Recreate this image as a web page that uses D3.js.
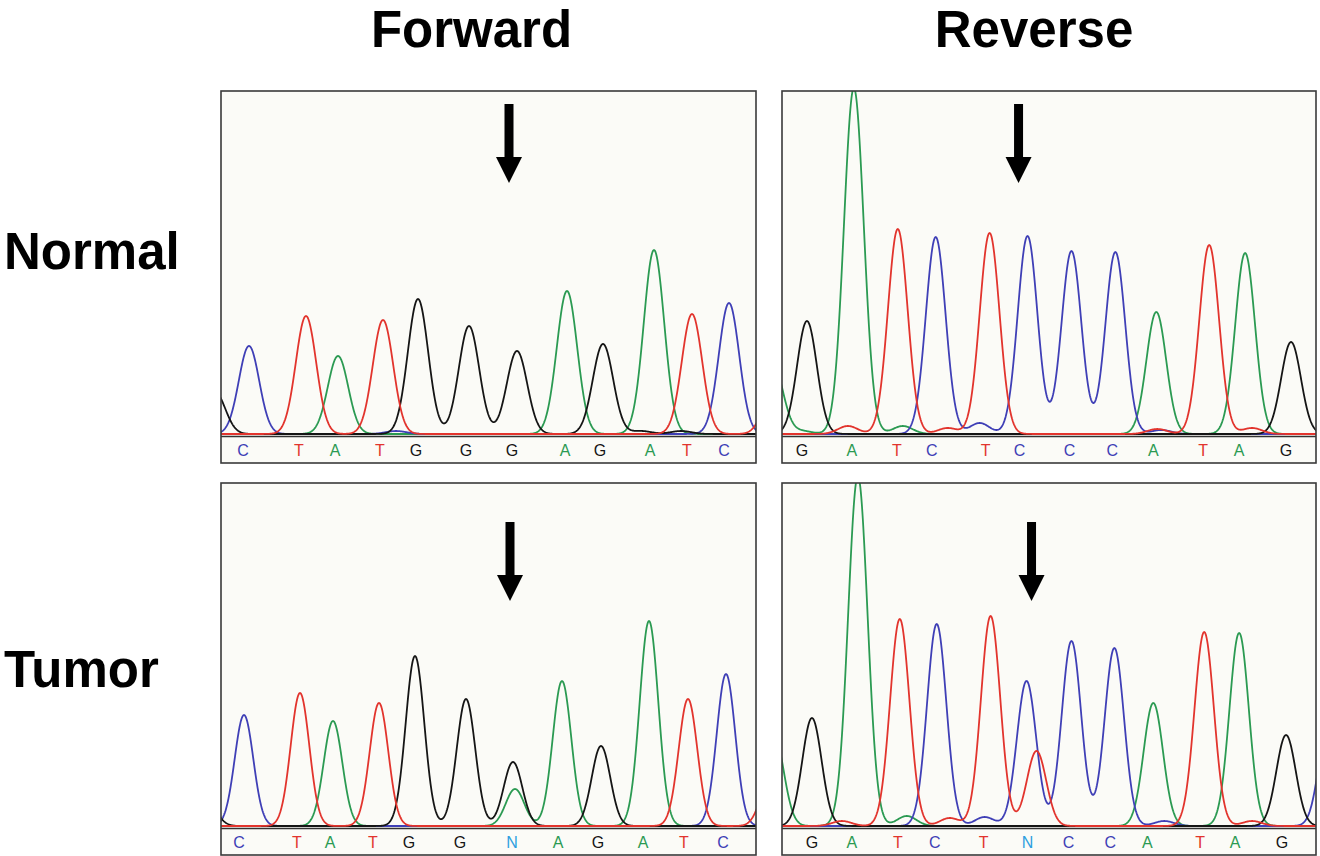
<!DOCTYPE html>
<html>
<head>
<meta charset="utf-8">
<script src="https://cdn.jsdelivr.net/npm/d3@7"></script>
<style>
  body { margin: 0; background: #fff; }
  svg { display: block; }
</style>
</head>
<body>
<div id="chart"></div>
<script>
// column / row headers
const colLabels = ['Forward', 'Reverse'];
const rowLabels = ['Normal', 'Tumor'];

// dye colour for each base channel
const baseColors = { A: '#2b9a52', C: '#3f3fb6', G: '#151515', T: '#e2342d', N: '#2e9fe0' };

// peaks: [channel, scan position, peak height]
const normalForwardPeaks = [
  ['G', -6, 42], ['C', 28, 88], ['T', 85, 118], ['A', 117, 78], ['T', 162, 114],
  ['G', 197, 135], ['G', 248, 108], ['G', 296, 83], ['A', 346, 143], ['G', 382, 90],
  ['A', 433, 184], ['T', 471, 120], ['C', 508, 131], ['T', 552, 40],
  ['C', 175, 3], ['G', 420, 3], ['G', 460, 3]
];
const normalReversePeaks = [
  ['A', -9, 70], ['G', 25, 113], ['A', 72, 346], ['T', 116, 205], ['C', 154, 197],
  ['T', 208, 201], ['C', 246, 198], ['C', 290, 183], ['C', 334, 182], ['A', 375, 122],
  ['T', 428, 189], ['A', 464, 181], ['G', 510, 92],
  ['T', 66, 8], ['A', 121, 8], ['T', 166, 6], ['C', 198, 11], ['T', 376, 5],
  ['C', 380, 4], ['T', 471, 6], ['A', 20, 3]
];
const tumorForwardPeaks = [
  ['G', -14, 25], ['C', 23, 111], ['T', 79, 133], ['A', 112, 105], ['T', 158, 123],
  ['G', 194, 170], ['G', 245, 127], ['G', 292, 64], ['A', 294, 37], ['A', 341, 145],
  ['G', 380, 80], ['A', 428, 205], ['T', 467, 127], ['C', 505, 152], ['T', 548, 41]
];
const tumorReversePeaks = [
  ['A', -8, 91], ['G', 30, 108], ['A', 76, 350], ['T', 118, 207], ['C', 155, 202],
  ['T', 209, 210], ['C', 245, 145], ['T', 255, 75], ['C', 290, 185], ['C', 333, 178],
  ['A', 372, 123], ['T', 423, 194], ['A', 458, 193], ['G', 505, 91], ['C', 548, 106],
  ['T', 60, 5], ['A', 125, 10], ['T', 168, 8], ['C', 203, 9], ['C', 383, 5], ['T', 471, 5]
];

// peak width (sigma, in scans) per panel
const peakWidths = [10.2, 9.9, 9.3, 9.7];

// base calls and their scan positions
const normalForwardCalls = 'CTATGGGAGATC';
const normalForwardCallPos = [22, 78, 114, 159, 195, 245, 291, 344, 379, 429, 466, 503];
const normalReverseCalls = 'GATCTCCCATAG';
const normalReverseCallPos = [20, 70, 115, 150, 204, 238, 288, 331, 372, 422, 458, 505];
const tumorForwardCalls = 'CTATGGNAGATC';
const tumorForwardCallPos = [18, 76, 109, 152, 188, 239, 291, 337, 377, 422, 463, 502];
const tumorReverseCalls = 'GATCTNCCATAG';
const tumorReverseCallPos = [30, 70, 116, 153, 202, 246, 287, 329, 366, 419, 454, 501];

// arrow marking the variant: [scan position, signal level of the tip]
const arrowMarks = [[288, 251], [237, 251], [289, 225], [250, 225]];

const scanMax = 535;
const signalMax = 343;

const panels = [
  { row: 0, col: 0, peaks: normalForwardPeaks, calls: normalForwardCalls, callPos: normalForwardCallPos },
  { row: 0, col: 1, peaks: normalReversePeaks, calls: normalReverseCalls, callPos: normalReverseCallPos },
  { row: 1, col: 0, peaks: tumorForwardPeaks, calls: tumorForwardCalls, callPos: tumorForwardCallPos },
  { row: 1, col: 1, peaks: tumorReversePeaks, calls: tumorReverseCalls, callPos: tumorReverseCallPos }
];

const width = 1320;
const height = 856;
const panelX = [221, 782];
const panelW = [535, 534];
const panelY = [91, 483];
const plotH = 343;
const stripH = 29;

const svg = d3.select('#chart')
  .append('svg')
  .attr('width', width)
  .attr('height', height)
  .style('font-family', '"Liberation Sans", Arial, sans-serif');

// headers
svg.selectAll('.col-label')
  .data(colLabels)
  .enter()
  .append('text')
  .attr('class', 'col-label')
  .attr('x', (d, i) => panelX[i] + panelW[i] / 2 - 17 + i * 2)
  .attr('y', 47)
  .attr('text-anchor', 'middle')
  .style('font-size', '51px')
  .style('font-weight', 'bold')
  .text((d) => d);

svg.selectAll('.row-label')
  .data(rowLabels)
  .enter()
  .append('text')
  .attr('class', 'row-label')
  .attr('x', 4)
  .attr('y', (d, i) => [269, 687][i])
  .style('font-size', '51px')
  .style('font-weight', 'bold')
  .text((d) => d);

panels.forEach((p, idx) => {
  const x0 = panelX[p.col];
  const w = panelW[p.col];
  const y0 = panelY[p.row];
  const baseline = y0 + plotH;
  const sigma = peakWidths[idx];

  const xScale = d3.scaleLinear().domain([0, scanMax]).range([x0, x0 + w]);
  const yScale = d3.scaleLinear().domain([0, signalMax]).range([baseline, y0]);

  const g = svg.append('g').attr('class', 'panel');

  g.append('rect')
    .attr('x', x0)
    .attr('y', y0)
    .attr('width', w)
    .attr('height', plotH + stripH)
    .attr('fill', '#fbfbf7');

  const clipId = 'clip' + idx;
  g.append('clipPath')
    .attr('id', clipId)
    .append('rect')
    .attr('x', x0)
    .attr('y', y0)
    .attr('width', w)
    .attr('height', plotH + 1);

  // trace for each dye channel, built from its peaks
  const scans = d3.range(-20, scanMax + 20, 0.5);
  const line = d3.line()
    .x((d) => xScale(d[0]))
    .y((d) => yScale(d[1]));

  const traces = g.append('g').attr('clip-path', `url(#${clipId})`);
  ['A', 'C', 'G', 'T'].forEach((ch) => {
    const chPeaks = p.peaks.filter((pk) => pk[0] === ch);
    const pts = scans.map((s) => [s, d3.sum(chPeaks, (pk) => pk[2] * Math.exp(-((s - pk[1]) ** 2) / (2 * sigma * sigma)))]);
    traces.append('path')
      .datum(pts)
      .attr('fill', 'none')
      .attr('stroke', baseColors[ch])
      .attr('stroke-width', 1.8)
      .attr('stroke-linejoin', 'round')
      .attr('d', line);
  });

  // separator between trace and base-call strip
  g.append('line')
    .attr('x1', x0)
    .attr('x2', x0 + w)
    .attr('y1', baseline + 2.5)
    .attr('y2', baseline + 2.5)
    .attr('stroke', '#333')
    .attr('stroke-width', 1.4);

  // base calls
  g.selectAll('.call')
    .data(p.calls.split(''))
    .enter()
    .append('text')
    .attr('class', 'call')
    .attr('x', (d, i) => xScale(p.callPos[i]))
    .attr('y', baseline + 22)
    .attr('text-anchor', 'middle')
    .style('font-size', '16px')
    .attr('fill', (d) => baseColors[d])
    .text((d) => d);

  // arrow
  const [ap, tip] = arrowMarks[idx];
  const ax = xScale(ap);
  const ay = yScale(tip);
  const arrowPath = d3.path();
  arrowPath.moveTo(ax - 4.5, ay - 79);
  arrowPath.lineTo(ax + 4.5, ay - 79);
  arrowPath.lineTo(ax + 4.5, ay - 26);
  arrowPath.lineTo(ax + 13, ay - 26);
  arrowPath.lineTo(ax, ay);
  arrowPath.lineTo(ax - 13, ay - 26);
  arrowPath.lineTo(ax - 4.5, ay - 26);
  arrowPath.closePath();
  g.append('path')
    .attr('d', arrowPath.toString())
    .attr('fill', '#000');

  g.append('rect')
    .attr('x', x0)
    .attr('y', y0)
    .attr('width', w)
    .attr('height', plotH + stripH)
    .attr('fill', 'none')
    .attr('stroke', '#3a3a3a')
    .attr('stroke-width', 1.6);
});
</script>
</body>
</html>
